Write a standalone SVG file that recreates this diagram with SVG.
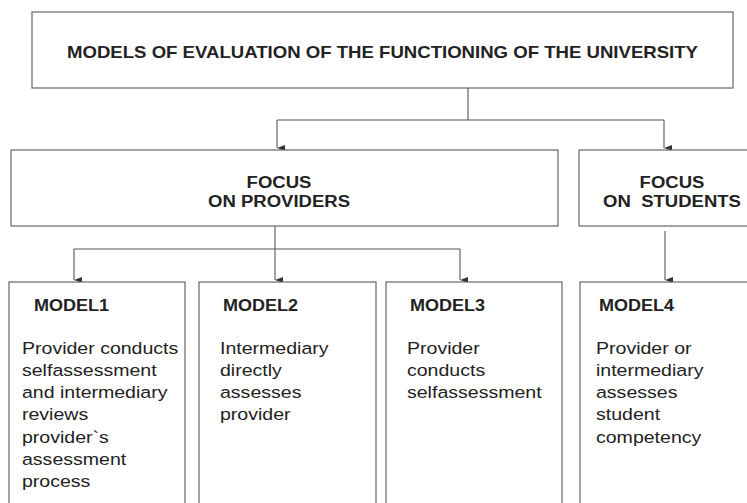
<svg xmlns="http://www.w3.org/2000/svg" width="747" height="503" viewBox="0 0 747 503">
<defs>
<marker id="ah" viewBox="0 0 6 8" markerWidth="6" markerHeight="8" refX="3" refY="8" orient="auto-start-reverse" markerUnits="userSpaceOnUse">
<path d="M0,0 L6,0 L3,8 Z" fill="#333"/>
</marker>
<style>
.box{fill:#fff;stroke:#666;stroke-width:1.2}
.ln{fill:none;stroke:#555;stroke-width:1.1}
.b{font-family:"Liberation Sans",Arial,sans-serif;font-weight:bold;font-size:17px;fill:#222}
.r{font-family:"Liberation Sans",Arial,sans-serif;font-size:17px;fill:#222}
</style>
</defs>
<rect width="747" height="503" fill="#fff"/>
<g id="connectors">
<path class="ln" d="M468,88 V120 M277,120 H664"/>
<path class="ln" d="M277,120 V148" marker-end="url(#ah)"/>
<path class="ln" d="M664,120 V148" marker-end="url(#ah)"/>
<path class="ln" d="M275,226 V249 M74,249 H460"/>
<path class="ln" d="M74,249 V280" marker-end="url(#ah)"/>
<path class="ln" d="M275,249 V280" marker-end="url(#ah)"/>
<path class="ln" d="M460,249 V280" marker-end="url(#ah)"/>
<path class="ln" d="M665,231 V280" marker-end="url(#ah)"/>
</g>
<g id="title">
<rect class="box" x="32" y="12" width="701" height="76"/>
<text class="b" x="67" y="58" font-size="18" textLength="631" lengthAdjust="spacingAndGlyphs">MODELS OF EVALUATION OF THE FUNCTIONING OF THE UNIVERSITY</text>
</g>
<g id="focus-providers">
<rect class="box" x="11" y="150" width="547" height="76"/>
<g transform="translate(279,0) scale(1.09,1)">
<text class="b" x="0" y="188" text-anchor="middle">FOCUS</text>
<text class="b" x="0" y="207" text-anchor="middle">ON PROVIDERS</text>
</g>
</g>
<g id="focus-students">
<rect class="box" x="579" y="150" width="180" height="76"/>
<g transform="translate(672,0) scale(1.09,1)">
<text class="b" x="0" y="188" text-anchor="middle">FOCUS</text>
<text class="b" x="0" y="207" text-anchor="middle" xml:space="preserve">ON  STUDENTS</text>
</g>
</g>
<g id="model1">
<rect class="box" x="9" y="282" width="176" height="240"/>
<text class="b" transform="translate(34,0) scale(1.06,1)" x="0" y="311">MODEL1</text>
<g transform="translate(22,0) scale(1.15,1)">
<text class="r" x="0" y="354">Provider conducts</text>
<text class="r" x="0" y="376">selfassessment</text>
<text class="r" x="0" y="398">and intermediary</text>
<text class="r" x="0" y="420">reviews</text>
<text class="r" x="0" y="443">provider`s</text>
<text class="r" x="0" y="465">assessment</text>
<text class="r" x="0" y="487">process</text>
</g>
</g>
<g id="model2">
<rect class="box" x="199" y="282" width="177" height="240"/>
<text class="b" transform="translate(223,0) scale(1.06,1)" x="0" y="311">MODEL2</text>
<g transform="translate(220,0) scale(1.15,1)">
<text class="r" x="0" y="354">Intermediary</text>
<text class="r" x="0" y="376">directly</text>
<text class="r" x="0" y="398">assesses</text>
<text class="r" x="0" y="420">provider</text>
</g>
</g>
<g id="model3">
<rect class="box" x="386" y="282" width="176" height="240"/>
<text class="b" transform="translate(410,0) scale(1.06,1)" x="0" y="311">MODEL3</text>
<g transform="translate(407,0) scale(1.15,1)">
<text class="r" x="0" y="354">Provider</text>
<text class="r" x="0" y="376">conducts</text>
<text class="r" x="0" y="398">selfassessment</text>
</g>
</g>
<g id="model4">
<rect class="box" x="580" y="282" width="180" height="240"/>
<text class="b" transform="translate(599,0) scale(1.06,1)" x="0" y="311">MODEL4</text>
<g transform="translate(596,0) scale(1.15,1)">
<text class="r" x="0" y="354">Provider or</text>
<text class="r" x="0" y="376">intermediary</text>
<text class="r" x="0" y="398">assesses</text>
<text class="r" x="0" y="420">student</text>
<text class="r" x="0" y="443">competency</text>
</g>
</g>
</svg>
